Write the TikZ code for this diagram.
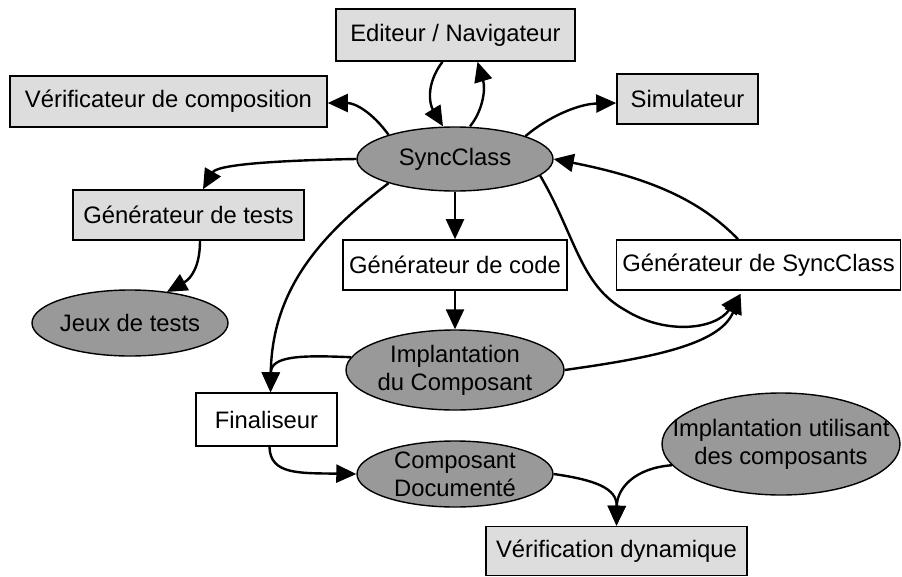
\documentclass[tikz,border=0pt]{standalone}
\usepackage{fontspec}
\setmainfont{Liberation Sans}
\usetikzlibrary{arrows.meta,shapes.geometric,calc}
\definecolor{boxgray}{RGB}{221,221,221}
\definecolor{ellgray}{RGB}{153,153,153}
\begin{document}
\begin{tikzpicture}[x=1pt,y=-1pt,
  txt/.style={font=\fontsize{23.8pt}{28pt}\selectfont, text=black},
  lbox/.style={txt, rectangle, draw=black, line width=1.6pt, fill=boxgray, inner sep=0pt},
  wbox/.style={lbox, fill=white},
  ell/.style={ellipse, draw=black, line width=1.4pt, fill=ellgray, inner sep=0pt},
  lbl/.style={txt, align=center, inner sep=0pt},
  arr/.style={line width=2.4pt, -{Triangle[length=20pt,width=18pt]}},
]
\useasboundingbox (0,0) rectangle (902,576);

% nodes
\node[lbox, minimum width=239pt, minimum height=52pt] (ed) at (455.5,35) {Editeur / Navigateur};
\node[lbox, minimum width=317pt, minimum height=51pt] (verif) at (168.5,101.5) {Vérificateur de composition};
\node[lbox, minimum width=141pt, minimum height=50pt] (sim) at (687.5,99) {Simulateur};
\node[ell, minimum width=196pt, minimum height=64pt, label={[lbl]center:SyncClass}] (sync) at (455,159) {};
\node[lbox, minimum width=231pt, minimum height=50pt] (gtests) at (188.5,215) {Générateur de tests};
\node[ell, minimum width=196pt, minimum height=66pt, label={[lbl]center:Jeux de tests}] (jeux) at (130,323) {};
\node[wbox, minimum width=224pt, minimum height=50pt] (gcode) at (455,265) {Générateur de code};
\node[wbox, minimum width=284pt, minimum height=50pt] (gsc) at (758.5,265) {Générateur de SyncClass};
\node[ell, minimum width=218pt, minimum height=80pt, label={[lbl]center:Implantation\\du Composant}] (impl) at (455,370) {};
\node[wbox, minimum width=141pt, minimum height=53pt] (final) at (266.5,419.5) {Finaliseur};
\node[ell, minimum width=196pt, minimum height=66pt, label={[lbl]center:Composant\\Documenté}] (compdoc) at (455,474) {};
\node[ell, minimum width=238pt, minimum height=102pt, label={[lbl]center:Implantation utilisant\\des composants}] (implut) at (781,444) {};
\node[lbox, minimum width=261pt, minimum height=49pt] (verdyn) at (616.5,551) {Vérification dynamique};

% connectors
\draw[arr] ($(ed.south)+(-13,0)$) .. controls (425,85) and (430,105) .. ($(sync.north)+(-12,0)$);
\draw[arr] ($(sync.north)+(15,0)$) .. controls (482,112) and (486,90) .. ($(ed.south)+(22,0)$);
\draw[arr] (sync.160) .. controls (372,112) and (355,103) .. ($(verif.east)+(0,1.5)$);
\draw[arr] (sync.18) .. controls (548,117) and (578,104) .. ($(sim.west)+(0,4)$);
\draw[arr] (sync.west) .. controls (300,160) and (218,163) .. ($(gtests.north)+(14.5,0)$);
\draw[arr] ($(gtests.south)+(11.5,0)$) .. controls (200,265) and (192,278) .. ($(jeux.north)+(37,2.6)$);
\draw[arr] (sync.south) -- (gcode.north);
\draw[arr] (gcode.south) -- (impl.north);
\draw[arr] (sync.200) .. controls (320,235) and (272,290) .. ($(final.north)+(4,0)$);
\draw[arr] (impl.173) .. controls (300,355) and (271,356) .. ($(final.north)+(4,0)$);
\draw[arr] (sync.349) .. controls (575,235) and (580,285) .. (625,310)
                      .. controls (665,335) and (715,330) .. ($(gsc.south)+(-18,3)$);
\draw[arr] (impl.east) .. controls (650,358) and (720,345) .. ($(gsc.south)+(-18,3)$);
\draw[arr] ($(gsc.north)+(-20.5,0)$) .. controls (700,200) and (650,178) .. (sync.east);
\draw[arr] ($(final.south)+(3,0)$) .. controls (270,475) and (300,473) .. (compdoc.west);
\draw[arr] (compdoc.east) .. controls (595,480) and (617,488) .. (verdyn.north);
\draw[arr] (implut.191) .. controls (635,468) and (617,488) .. (verdyn.north);
\end{tikzpicture}
\end{document}
